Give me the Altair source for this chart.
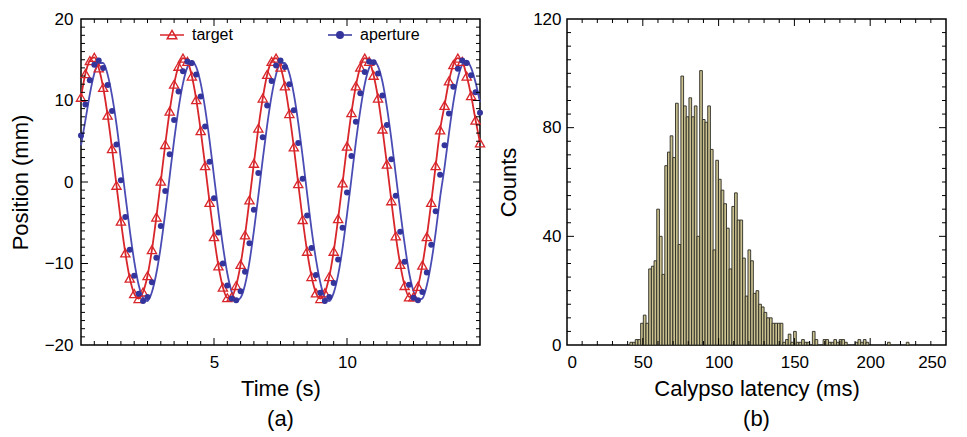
import altair as alt
import pandas as pd

FONT = "Liberation Sans"
RED = "#d8262b"
BLUE = "#33349c"
BLUE_LINE = "#4a4cb4"
BAR_FILL = "#cbc290"
BAR_STROKE = "#2a2a24"

# ---------------- Panel (a): position vs time, samples every 1/6 s ----------------
SAMPLE_DT = 1 / 6

target = [
    10.4, 13.3, 14.9, 15.3, 14.0, 11.6, 8.2, 4.1, -0.4, -4.8,
    -8.7, -11.8, -13.7, -14.3, -13.5, -11.5, -8.3, -4.3, 0.1, 4.6,
    8.7, 12.0, 14.2, 15.2, 14.8, 13.0, 10.1, 6.3, 2.0, -2.5,
    -6.7, -10.3, -12.9, -14.2, -14.1, -12.7, -10.1, -6.5, -2.2, 2.3,
    6.6, 10.3, 13.2, 14.8, 15.2, 14.1, 11.8, 8.4, 4.3, -0.2,
    -4.6, -8.5, -11.6, -13.6, -14.3, -13.6, -11.6, -8.5, -4.5, -0.1,
    4.4, 8.5, 11.8, 14.1, 15.2, 14.8, 13.1, 10.3, 6.5, 2.2,
    -2.3, -6.6, -10.1, -12.7, -14.1, -14.1, -12.8, -10.2, -6.7, -2.5,
    2.0, 6.4, 9.4, 12.4, 14.4, 15.2, 14.8, 13.0, 10.6, 7.6,
    4.8,
]

aperture = [
    5.7, 9.5, 12.5, 14.4, 14.9, 14.0, 11.9, 8.7, 4.6, 0.2,
    -4.3, -8.3, -11.5, -13.7, -14.6, -14.1, -12.3, -9.3, -5.4, -1.1,
    3.4, 7.6, 11.1, 13.6, 14.8, 14.6, 13.2, 10.5, 6.8, 2.5,
    -2.0, -6.2, -10.0, -12.7, -14.3, -14.5, -13.4, -11.0, -7.5, -3.4,
    1.1, 5.5, 9.4, 12.4, 14.3, 14.9, 14.1, 12.0, 8.8, 4.8,
    0.4, -4.1, -8.1, -11.4, -13.6, -14.6, -14.1, -12.4, -9.5, -5.6,
    -1.3, 3.2, 7.4, 10.9, 13.5, 14.8, 14.7, 13.3, 10.6, 7.0,
    2.8, -1.7, -6.1, -9.8, -12.6, -14.2, -14.5, -13.5, -11.1, -7.7,
    -3.6, 0.9, 4.5, 8.4, 11.7, 13.9, 14.9, 14.6, 13.1, 11.0,
    8.5,
]

aperture_fit = [
    4.5, 7.6, 10.8, 13.3, 14.6, 14.6, 13.2, 10.6, 7.1, 2.8,
    -1.6, -5.9, -9.7, -12.6, -14.2, -14.6, -13.5, -11.2, -7.9, -3.8,
    0.7, 5.1, 9.0, 12.1, 14.1, 14.8, 14.1, 12.1, 9.0, 5.1,
    0.7, -3.7, -7.8, -11.2, -13.5, -14.6, -14.2, -12.6, -9.8, -6.0,
    -1.7, 2.8, 7.0, 10.6, 13.2, 14.6, 14.6, 13.3, 10.8, 7.3,
    3.1, -1.4, -5.8, -9.5, -12.4, -14.2, -14.6, -13.6, -11.4, -8.1,
    -4.0, 0.4, 4.9, 8.8, 12.0, 14.0, 14.8, 14.2, 12.3, 9.2,
    5.3, 0.9, -3.5, -7.6, -11.1, -13.4, -14.5, -14.3, -12.7, -9.9,
    -6.2, -1.9, 1.8, 6.0, 9.8, 12.7, 14.4, 14.9, 14.0, 12.2,
    9.8,
]

series_names = ["target", "aperture"]

# ---------------- Panel (b): latency histogram ----------------
LAT_BIN0 = 41.5   # ms, left edge of first bin
LAT_BINW = 1.77   # ms, bin width

latency_counts = [
    1, 1, 2, 2, 8, 11, 8, 28, 29, 31,
    50, 40, 26, 66, 71, 77, 69, 89, 37, 99,
    88, 84, 91, 84, 88, 40, 101, 83, 82, 88,
    72, 35, 68, 61, 57, 52, 43, 28, 51, 56,
    46, 46, 32, 18, 35, 31, 19, 20, 15, 14,
    12, 10, 10, 8, 8, 8, 8, 1, 2, 4,
    1, 5, 1, 1, 2, 1, 1, 0, 5, 2,
    0, 0, 2, 2, 1, 1, 2, 1, 2, 2,
    1, 0, 0, 0, 1, 2, 1, 2, 1, 0,
    0, 0, 0, 0, 0, 0, 1, 0, 0, 0,
    0, 0, 0, 1,
]

# ---------------- build tables ----------------
n = len(target)
time_s = [i * SAMPLE_DT for i in range(n)]
df_target = pd.DataFrame({"t": time_s, "pos": target})
df_ap = pd.DataFrame({"t": time_s, "pos": aperture})
df_fit = pd.DataFrame({"t": time_s, "pos": aperture_fit})
df_leg = pd.DataFrame({"series": series_names})

starts = [LAT_BIN0 + i * LAT_BINW for i in range(len(latency_counts))]
df_hist = pd.DataFrame({
    "start": starts,
    "end": [s + LAT_BINW for s in starts],
    "count": latency_counts,
})
df_hist = df_hist[df_hist["count"] > 0]

MAJ, MIN = 7, 4


def tick_layers(xmaj, xmin, ymaj, ymin, W, H, xs, ys, xax, yax):
    layers = []
    for vals, ln in ((xmaj, MAJ), (xmin, MIN)):
        base = alt.Chart(pd.DataFrame({"v": vals})).mark_rule(color="black", strokeWidth=1)
        layers.append(base.encode(x=alt.X("v:Q", scale=xs, axis=xax),
                                  y=alt.value(H), y2=alt.value(H - ln)))
        layers.append(base.encode(x=alt.X("v:Q", scale=xs, axis=xax),
                                  y=alt.value(0), y2=alt.value(ln)))
    for vals, ln in ((ymaj, MAJ), (ymin, MIN)):
        base = alt.Chart(pd.DataFrame({"v": vals})).mark_rule(color="black", strokeWidth=1)
        layers.append(base.encode(y=alt.Y("v:Q", scale=ys, axis=yax),
                                  x=alt.value(0), x2=alt.value(ln)))
        layers.append(base.encode(y=alt.Y("v:Q", scale=ys, axis=yax),
                                  x=alt.value(W), x2=alt.value(W - ln)))
    return layers


AXIS_STYLE = dict(labelFont=FONT, titleFont=FONT, labelFontSize=17, titleFontSize=22,
                  titleFontWeight="normal", labelColor="black", titleColor="black",
                  ticks=False, domain=False, grid=False)

# ---------------- panel (a) ----------------
WA, HA = 399, 326
xs_a = alt.Scale(domain=[0, 15], nice=False, zero=False)
ys_a = alt.Scale(domain=[-20, 20], nice=False, zero=False)
ax_x_a = alt.Axis(values=[5, 10], title="Time (s)", labelPadding=9, titlePadding=8, **AXIS_STYLE)
ax_y_a = alt.Axis(values=[-20, -10, 0, 10, 20], title="Position (mm)", labelPadding=8,
                  titlePadding=12, **AXIS_STYLE)

x_a = alt.X("t:Q", scale=xs_a, axis=ax_x_a)
y_a = alt.Y("pos:Q", scale=ys_a, axis=ax_y_a)

red_line = alt.Chart(df_target).mark_line(color=RED, strokeWidth=1.8, interpolate="monotone").encode(
    x=x_a, y=y_a)
blue_line = alt.Chart(df_fit).mark_line(color=BLUE_LINE, strokeWidth=1.8, interpolate="monotone").encode(
    x=x_a, y=y_a)
red_pts = alt.Chart(df_target).mark_point(shape="triangle-up", size=85, color=RED, filled=False,
                                          strokeWidth=1.3, opacity=1).encode(x=x_a, y=y_a)
blue_pts = alt.Chart(df_ap).mark_point(shape="circle", size=36, color=BLUE, filled=True,
                                       opacity=1).encode(x=x_a, y=y_a)

tri_path = "M-1,0H1M0,-0.38L0.4,0.32L-0.4,0.32Z"
dot_path = "M-1,0H1M-0.27,0A0.27,0.27 0 1,0 0.27,0A0.27,0.27 0 1,0 -0.27,0Z"
leg = alt.Legend(title=None, orient="none", legendX=78, legendY=3, direction="horizontal",
                 symbolSize=576, symbolStrokeWidth=1.5, labelFont=FONT, labelFontSize=16,
                 labelColor="black", labelOffset=7, columnPadding=92, padding=0, symbolOpacity=1)
legend_layer = alt.Chart(df_leg).mark_point(filled=True, opacity=0).encode(
    shape=alt.Shape("series:N", scale=alt.Scale(domain=series_names, range=[tri_path, dot_path]), legend=leg),
    stroke=alt.Stroke("series:N", scale=alt.Scale(domain=series_names, range=[RED, BLUE]), legend=leg),
    fill=alt.Fill("series:N", scale=alt.Scale(domain=series_names, range=["white", BLUE]), legend=leg),
)

ticks_a = tick_layers([5, 10], [k * 0.5 for k in range(1, 30) if k % 10 != 0],
                      [-10, 0, 10], [k for k in range(-19, 20) if k % 10 != 0],
                      WA, HA, xs_a, ys_a, ax_x_a, ax_y_a)

panel_a = alt.layer(red_line, blue_line, red_pts, blue_pts, legend_layer, *ticks_a).properties(
    width=WA, height=HA,
    title=alt.TitleParams("(a)", orient="bottom", anchor="middle", fontSize=22, font=FONT,
                          fontWeight="normal", color="black", offset=10),
)

# ---------------- panel (b) ----------------
WB, HB = 379, 326
xs_b = alt.Scale(domain=[0, 250], nice=False, zero=False)
ys_b = alt.Scale(domain=[0, 120], nice=False, zero=False)
ax_x_b = alt.Axis(values=[0, 50, 100, 150, 200, 250], title="Calypso latency (ms)",
                  labelPadding=9, titlePadding=8, **AXIS_STYLE)
ax_y_b = alt.Axis(values=[0, 40, 80, 120], title="Counts", labelPadding=6, titlePadding=12,
                  **AXIS_STYLE)

bars = alt.Chart(df_hist).mark_bar(fill=BAR_FILL, stroke=BAR_STROKE, strokeWidth=0.9).encode(
    x=alt.X("start:Q", scale=xs_b, axis=ax_x_b),
    x2="end:Q",
    y=alt.Y("count:Q", scale=ys_b, axis=ax_y_b),
    y2=alt.datum(0),
)

ticks_b = tick_layers([50, 100, 150, 200], [k * 10 for k in range(1, 25) if k % 5 != 0],
                      [40, 80], [k * 5 for k in range(1, 24) if k % 8 != 0],
                      WB, HB, xs_b, ys_b, ax_x_b, ax_y_b)

panel_b = alt.layer(bars, *ticks_b).properties(
    width=WB, height=HB,
    title=alt.TitleParams("(b)", orient="bottom", anchor="middle", fontSize=22, font=FONT,
                          fontWeight="normal", color="black", offset=10),
)

chart = alt.hconcat(panel_a, panel_b, spacing=8).properties(
    padding={"left": 0, "top": 1, "right": 0, "bottom": 0},
    background="white",
).configure_view(
    stroke="black", strokeWidth=1.5
).configure_axis(
    labelFont=FONT, titleFont=FONT, labelFontSize=17, titleFontSize=22, titleFontWeight="normal",
    labelColor="black", titleColor="black", ticks=False, domain=False, grid=False
)

chart.save("out.html", embed_options={"renderer": "svg", "actions": False})
